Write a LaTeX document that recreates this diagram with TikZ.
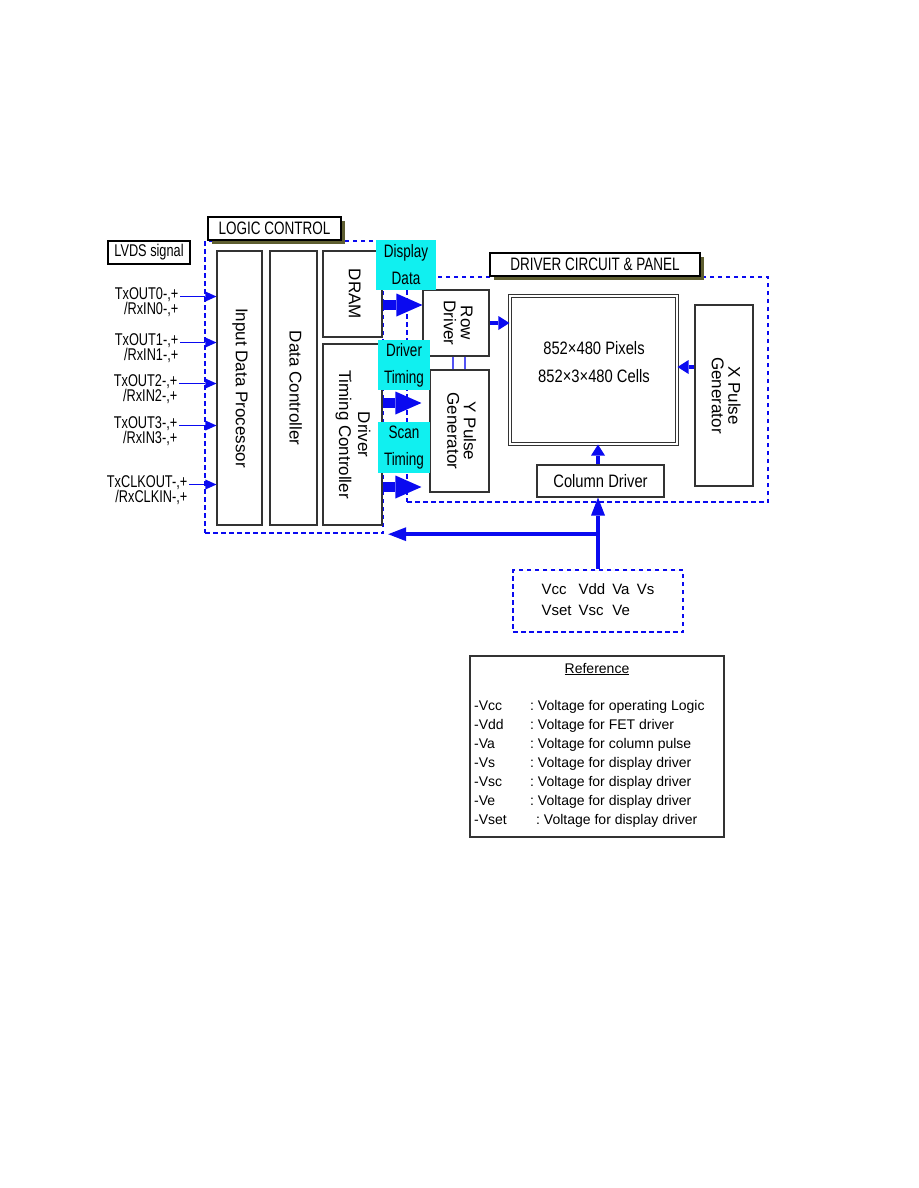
\documentclass[tikz,border=0pt]{standalone}
\usepackage{fontspec}
\usepackage{graphicx}
\setmainfont{Liberation Sans}
\newfontfamily\narrowsf[FakeStretch=0.75]{Liberation Sans}
\newfontfamily\midsf[FakeStretch=0.82]{Liberation Sans}
\usetikzlibrary{arrows.meta,shadows}
\definecolor{wire}{HTML}{0A0AF0}
\definecolor{edge}{HTML}{333333}
\definecolor{tagshade}{HTML}{5E5E30}
\definecolor{busfill}{HTML}{10F0F0}
\newcommand{\vlabel}[1]{\rotatebox{-90}{\begin{tabular}{@{}c@{}}#1\end{tabular}}}
\tikzset{
  block/.style={draw=edge, line width=1.1pt, fill=white, inner sep=0pt, font=\fontsize{17}{15.5}\selectfont},
  hblock/.style={block, font=\midsf\fontsize{18}{20}\selectfont},
  sigtag/.style={draw=black, line width=1.1pt, fill=white, inner sep=0pt, font=\narrowsf\fontsize{17}{20}\selectfont},
  tag/.style={sigtag, font=\narrowsf\fontsize{18}{20}\selectfont,
    drop shadow={shadow xshift=4pt, shadow yshift=-4pt, fill=tagshade, opacity=1}},
  zone/.style={draw=wire, line width=2.4pt, dash pattern=on 4.5pt off 3.5pt, inner sep=0pt},
  bus/.style={fill=busfill, inner sep=0pt, align=center, font=\narrowsf\fontsize{18}{27}\selectfont},
  siglabel/.style={align=right, inner sep=1.5pt, font=\narrowsf\fontsize{17}{15.5}\selectfont},
  legendtext/.style={font=\fontsize{14}{19}\selectfont},
  fatarrow/.style={wire, line width=10pt, -{Triangle[length=26pt,width=23pt,line width=0pt]}},
  feedarrow/.style={wire, line width=4pt, -{Triangle[length=11pt,width=14pt,line width=0pt]}},
  powerarrow/.style={wire, line width=4pt, -{Triangle[length=18pt,width=14pt,line width=0pt]}},
  inarrow/.style={wire, line width=1.8pt, -{Triangle[length=11pt,width=10pt,line width=0pt]}},
  pairlink/.style={draw=wire!70, line width=1.2pt}
}

\begin{document}
\begin{tikzpicture}[x=1pt,y=-1pt]
\useasboundingbox (0,0) rectangle (918,1188);

% dashed regions
\node[zone, minimum width=178pt, minimum height=292pt] (logic) at (294,387) {};
\node[zone, minimum width=361pt, minimum height=225pt] (drvzone) at (587.5,389.5) {};

% logic control
\node[block, minimum width=45pt, minimum height=274pt] (idp) at (239.5,388) {\vlabel{Input Data Processor}};
\node[block, minimum width=47pt, minimum height=274pt] (dctl) at (293.5,388) {\vlabel{Data Controller}};
\node[block, minimum width=59pt, minimum height=86pt] (dram) at (352.5,294) {\vlabel{DRAM}};
\node[block, minimum width=59pt, minimum height=181pt, font=\fontsize{17}{19}\selectfont] (dtc) at (352.5,434.5) {\vlabel{Driver\\Timing Controller}};

% driver circuit & panel
\node[block, minimum width=66pt, minimum height=66pt] (row) at (456,323) {\vlabel{Row\\Driver}};
\node[block, minimum width=59pt, minimum height=122pt] (ygen) at (459.5,431) {\vlabel{Y Pulse\\Generator}};
\node[block, minimum width=58pt, minimum height=181pt] (xgen) at (724,395.5) {\vlabel{X Pulse\\Generator}};
\node[draw=edge, line width=1.1pt, double=white, double distance=2pt, minimum width=167pt, minimum height=148pt] (panel) at (593.5,370) {};
\node[align=center, font=\midsf\fontsize{18}{28}\selectfont] (paneltext) at (594,362) {852×480 Pixels\\852×3×480 Cells};
\node[hblock, minimum width=127pt, minimum height=32pt] (coldrv) at (600.5,481) {Column Driver};

% bus labels
\node[bus, minimum width=60pt, minimum height=50pt] (dispdata) at (406,265) {Display\\Data};
\node[bus, minimum width=52pt, minimum height=50pt] (drvtiming) at (404,365) {Driver\\Timing};
\node[bus, minimum width=52pt, minimum height=51pt] (scantiming) at (404,447.5) {Scan\\Timing};

% titles
\node[tag, minimum width=133pt, minimum height=23pt] (logictag) at (274.5,228.5) {LOGIC CONTROL};
\node[sigtag, minimum width=82pt, minimum height=23pt] (lvdstag) at (149,252.5) {LVDS signal};
\node[tag, minimum width=210pt, minimum height=23pt] (drvtag) at (595,264.5) {DRIVER CIRCUIT \& PANEL};

% power
\node[zone, minimum width=170pt, minimum height=62pt, font=\fontsize{15}{21}\selectfont] (supply) at (598,601)
  {\begin{tabular}{@{}l@{\hspace{7pt}}l@{\hspace{7pt}}l@{\hspace{7pt}}l@{}}Vcc & Vdd & Va & Vs\\Vset & Vsc & Ve\end{tabular}};

% legend
\node[draw=edge, line width=1.1pt, minimum width=254pt, minimum height=181pt, inner sep=0pt] (legend) at (597,746.5) {};
\node[legendtext] (legendtitle) at (597,669) {\underline{Reference}};
\node[legendtext, anchor=north west, inner sep=0pt] (legendbody) at (474,697) {\begin{tabular}{@{}l@{}}
  \makebox[56pt][l]{-Vcc}:\ Voltage for operating Logic\\
  \makebox[56pt][l]{-Vdd}:\ Voltage for FET driver\\
  \makebox[56pt][l]{-Va}:\ Voltage for column pulse\\
  \makebox[56pt][l]{-Vs}:\ Voltage for display driver\\
  \makebox[56pt][l]{-Vsc}:\ Voltage for display driver\\
  \makebox[56pt][l]{-Ve}:\ Voltage for display driver\\
  \makebox[62pt][l]{-Vset}:\ Voltage for display driver
\end{tabular}};

% LVDS inputs
\foreach \nm/\xr/\yc/\txt in {tx0/180/302/{TxOUT0-,+\\/RxIN0-,+},
                              tx1/180/348/{TxOUT1-,+\\/RxIN1-,+},
                              tx2/179/389/{TxOUT2-,+\\/RxIN2-,+},
                              tx3/179/431/{TxOUT3-,+\\/RxIN3-,+},
                              txclk/189/490/{TxCLKOUT-,+\\/RxCLKIN-,+}} {
  \node[siglabel, anchor=east] (\nm) at (\xr,\yc) {\txt};
  \draw[inarrow] ([yshift=5.5pt]\nm.east) -- ([yshift=5.5pt]\nm.east -| idp.west);
}

% data paths
\draw[fatarrow] ([yshift=-11pt]dram.east) -- ([yshift=-11pt]dram.east -| row.west);
\draw[fatarrow, shorten >=8pt] ([yshift=31.5pt]dtc.east) -- ([yshift=31.5pt]dtc.east -| ygen.west);
\draw[fatarrow, shorten >=8pt] ([yshift=-52.5pt]dtc.east) -- ([yshift=-52.5pt]dtc.east -| ygen.west);
\draw[pairlink] ([xshift=-3pt]row.south) -- ([xshift=-3pt]row.south |- ygen.north);
\draw[pairlink] ([xshift=9pt]row.south) -- ([xshift=9pt]row.south |- ygen.north);
\draw[feedarrow] (row.east) -- (row.east -| panel.west);
\draw[feedarrow] ([yshift=28.5pt]xgen.west) -- ([yshift=28.5pt]xgen.west -| panel.east);
\draw[feedarrow] (supply.north |- coldrv.north) -- (supply.north |- panel.south);

% supply lines
\draw[powerarrow] (supply.north) -- (supply.north |- coldrv.south);
\draw[powerarrow] (supply.north |- logic.south east) -- ([xshift=4pt]logic.south east);

\end{tikzpicture}
\end{document}
